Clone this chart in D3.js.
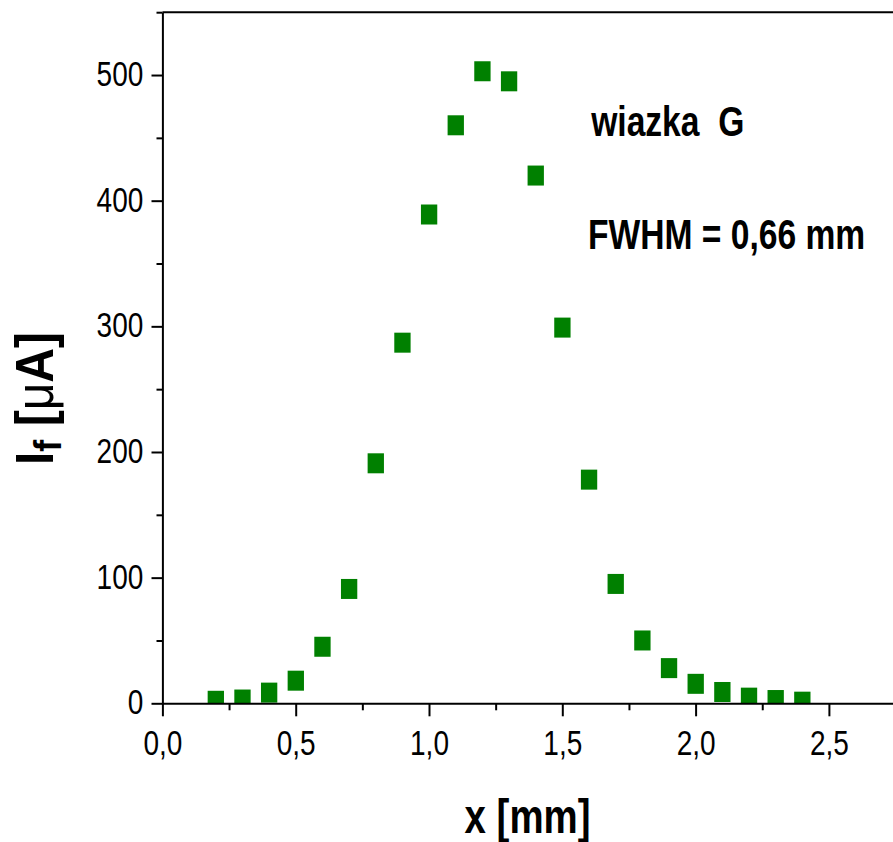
<!DOCTYPE html>
<html>
<head>
<meta charset="utf-8">
<script src="https://cdn.jsdelivr.net/npm/d3@7/dist/d3.min.js"></script>
<style>
  body { margin: 0; background: #fff; }
  svg { display: block; }
  .axis .domain, .axis line, .frame { stroke: #000; stroke-width: 2; vector-effect: non-scaling-stroke; }
  .axis text { font-family: "Liberation Sans", Arial, sans-serif; font-size: 35px; fill: #000; }
</style>
</head>
<body>
<svg id="chart" width="893" height="842"></svg>
<script>
// Beam profile: fluorescence current vs. position
const positions = [0.2, 0.3, 0.4, 0.5, 0.6, 0.7, 0.8, 0.9, 1.0, 1.1, 1.2, 1.3,
                   1.4, 1.5, 1.6, 1.7, 1.8, 1.9, 2.0, 2.1, 2.2, 2.3, 2.4];
const currents  = [2, 3, 8.5, 18, 45, 91, 191, 287, 389, 460, 503, 495,
                   420, 299, 178, 95, 50, 28, 15.5, 9, 4.5, 2.6, 1.3];

const xMajorTicks = [0, 0.5, 1.0, 1.5, 2.0, 2.5];
const xMinorTicks = [0.25, 0.75, 1.25, 1.75, 2.25];
const yMajorTicks = [0, 100, 200, 300, 400, 500];
const yMinorTicks = [50, 150, 250, 350, 450, 550];

const beamLabel = "wiazka\u00a0\u00a0G";
const fwhmLabel = "FWHM = 0,66 mm";
const xTitle = "x [mm]";

// The whole chart is drawn in a horizontally condensed frame
const SX = 0.8;
const svg = d3.select("#chart");
const g = svg.append("g").attr("transform", `scale(${SX},1)`);

const x = d3.scaleLinear().domain([0, 2.8]).range([162.5 / SX, (162.5 + 2.8 * 266.6) / SX]);
const y = d3.scaleLinear().domain([0, 550]).range([703.3, 12.2]);

const fmt = d => d3.format(".1f")(d).replace(".", ",");

// plot area clip
g.append("clipPath").attr("id", "plotClip")
  .append("rect")
  .attr("x", x(0)).attr("y", y(550))
  .attr("width", x(2.8) - x(0)).attr("height", y(0) - y(550));

// data markers
const points = positions.map((p, i) => ({ x: p, y: currents[i] }));
g.append("g").attr("clip-path", "url(#plotClip)")
  .selectAll("rect").data(points).join("rect")
  .attr("x", d => x(d.x) - 10.2)
  .attr("y", d => y(d.y) - 10)
  .attr("width", 20.4)
  .attr("height", 20)
  .attr("fill", "#008000");

// x axis
const xAxisG = g.append("g").attr("class", "axis")
  .attr("transform", `translate(0,${y(0)})`)
  .call(d3.axisBottom(x).tickValues(xMajorTicks).tickSize(13).tickSizeOuter(0).tickFormat(fmt));
xAxisG.selectAll("text").attr("y", 51.7).attr("dy", 0);
g.append("g").attr("class", "axis")
  .attr("transform", `translate(0,${y(0)})`)
  .call(d3.axisBottom(x).tickValues(xMinorTicks).tickSize(7).tickFormat(""))
  .call(s => s.select(".domain").remove());

// y axis
const yAxisG = g.append("g").attr("class", "axis")
  .attr("transform", `translate(${x(0)},0)`)
  .call(d3.axisLeft(y).tickValues(yMajorTicks).tickSize(11 / SX).tickSizeOuter(0).tickFormat(d3.format("d")));
yAxisG.selectAll("text").attr("x", -24).attr("dy", "0.3em");
g.append("g").attr("class", "axis")
  .attr("transform", `translate(${x(0)},0)`)
  .call(d3.axisLeft(y).tickValues(yMinorTicks).tickSize(6 / SX).tickFormat(""))
  .call(s => s.select(".domain").remove());

// top frame line
g.append("line").attr("class", "frame")
  .attr("x1", x(0)).attr("x2", x(2.8))
  .attr("y1", y(550)).attr("y2", y(550));

// annotations
const bold = sel => sel.attr("font-family", '"Liberation Sans", Arial, sans-serif')
  .attr("font-weight", "bold").attr("fill", "#000");

g.append("text").call(bold)
  .attr("x", 739).attr("y", 136).attr("font-size", 42)
  .text(beamLabel);
g.append("text").call(bold)
  .attr("x", 735).attr("y", 249).attr("font-size", 42)
  .text(fwhmLabel);

// x axis title
g.append("text").call(bold)
  .attr("x", 659.4).attr("y", 833).attr("font-size", 48)
  .attr("text-anchor", "middle")
  .text(xTitle);

// y axis title: I_f [μA]
const yt = svg.append("text").call(bold)
  .attr("font-size", 48)
  .attr("transform", "translate(53,465) rotate(-90) scale(1.0,1.1)");
yt.append("tspan").text("I");
yt.append("tspan").attr("font-size", 36).attr("dy", 7.3).text("f");
yt.append("tspan").attr("dy", -7.3).text("\u00a0[");
yt.append("tspan").attr("font-weight", "normal").text("\u03bc");
yt.append("tspan").text("A]");
</script>
</body>
</html>
